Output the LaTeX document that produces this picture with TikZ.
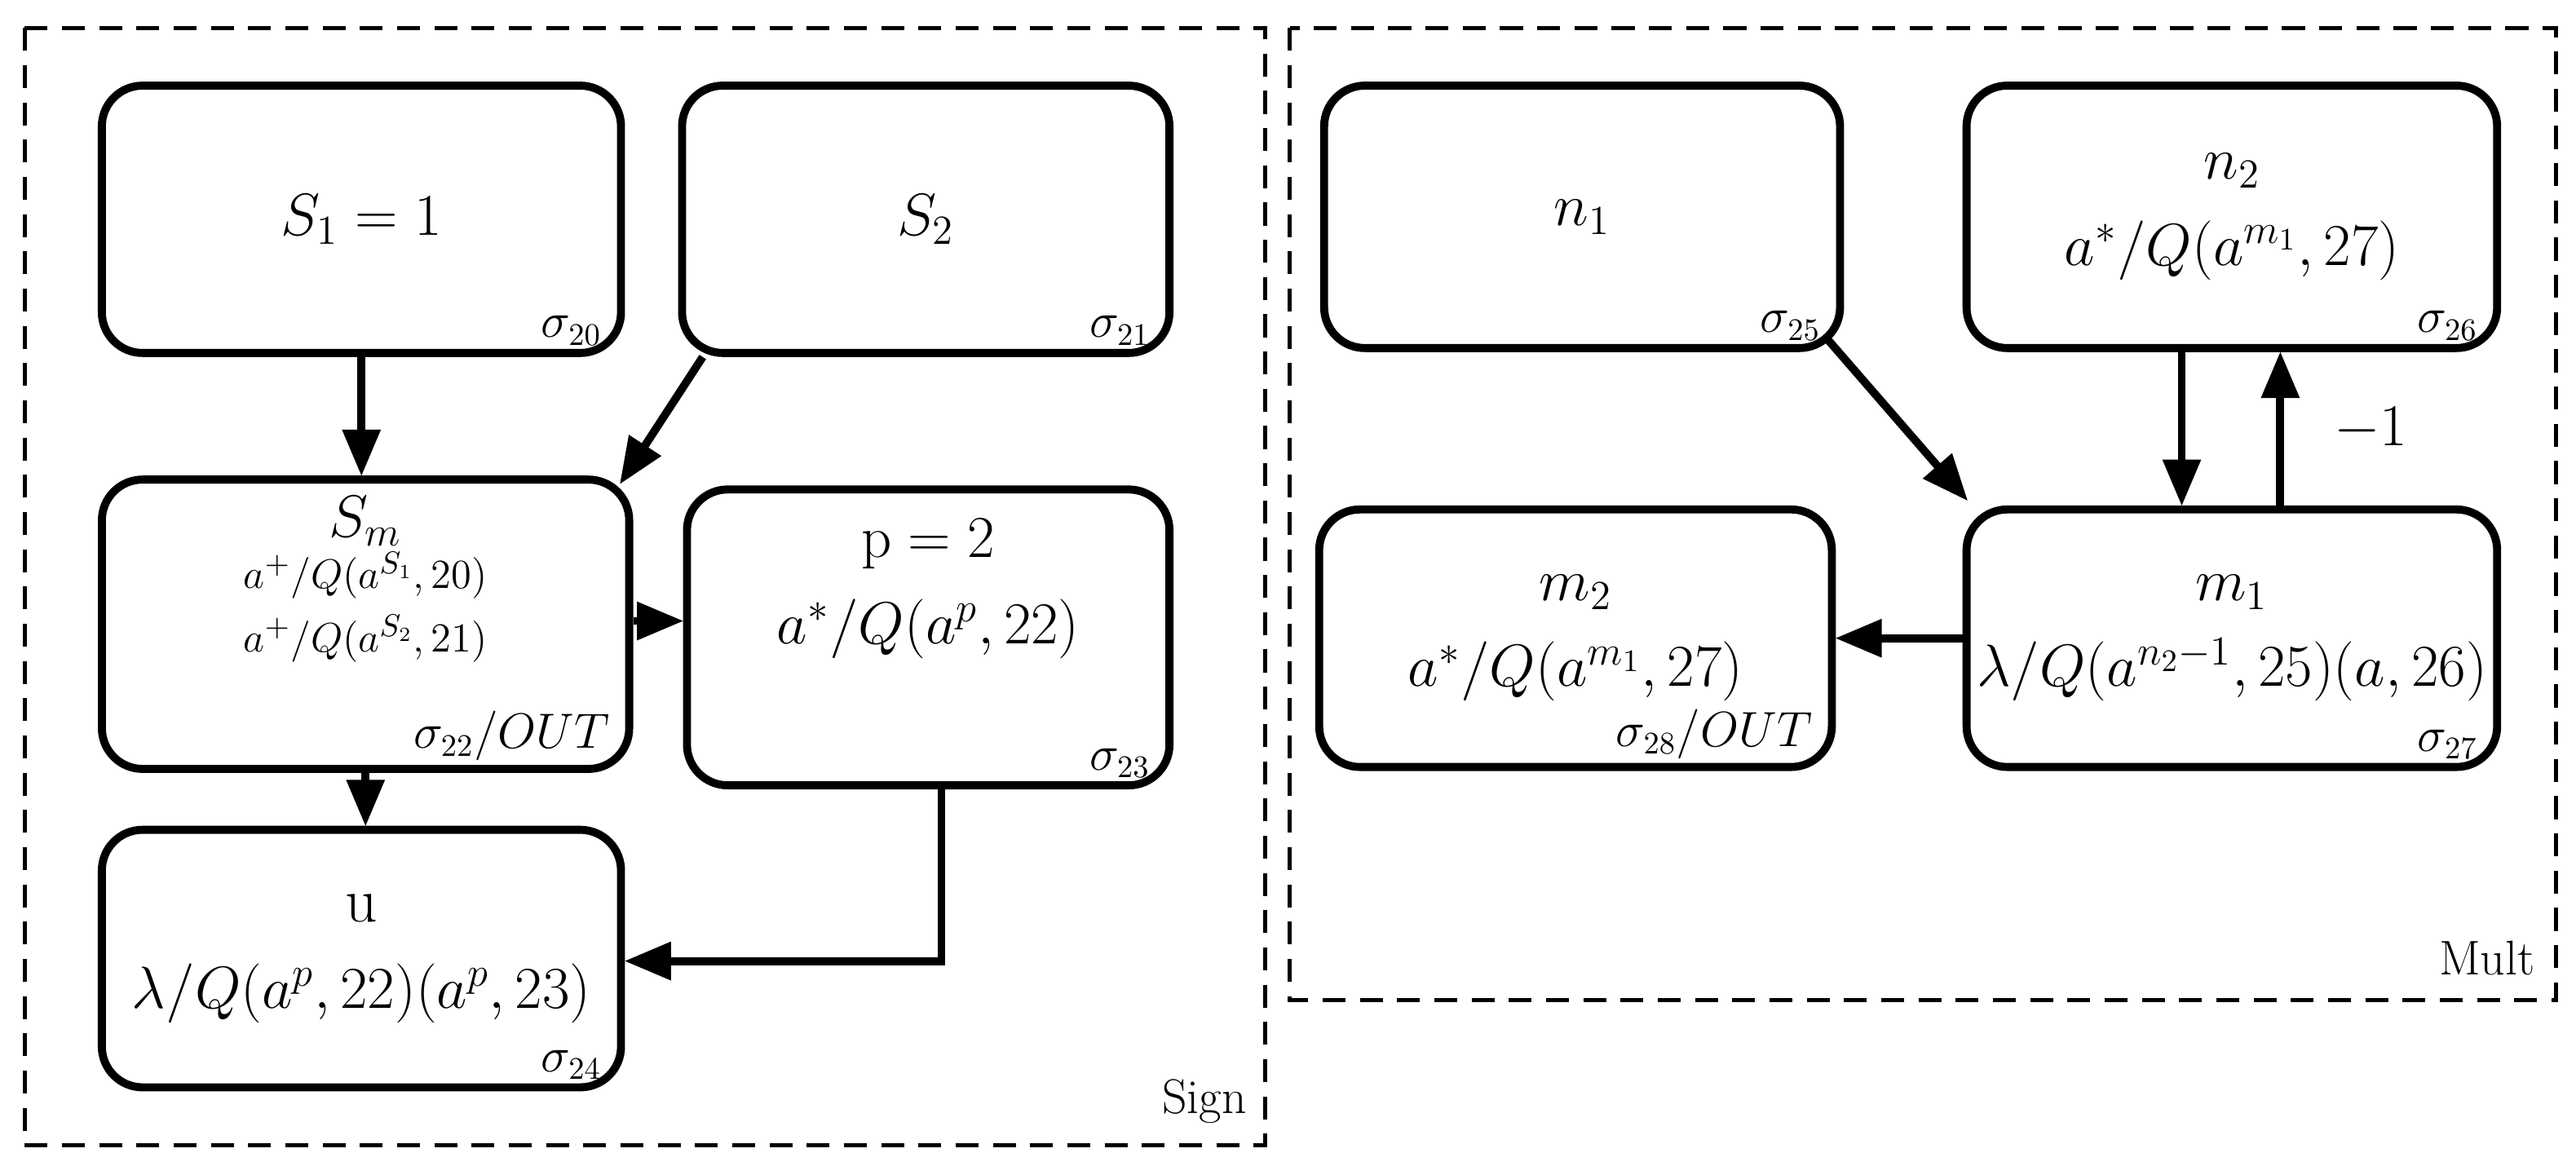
\documentclass[tikz,border=0pt]{standalone}
\usepackage{amsmath}
\usetikzlibrary{positioning,arrows,calc}
\tikzstyle{sbox}=[rectangle, rounded corners=0.5cm, draw=black, line width=2.8pt, inner sep=2pt, align=center, font=\fontsize{22}{30}\selectfont]
\tikzstyle{sig}=[above left, inner xsep=8pt, inner ysep=4pt, font=\fontsize{16}{18}\selectfont]
\tikzstyle{pline}=[-triangle 45, line width=2.8pt]
\tikzstyle{frame}=[draw, dash pattern=on 8pt off 5pt, line width=1.4pt]
\newcommand{\sml}[1]{{\fontsize{15}{19}\selectfont $#1$}}
\begin{document}
\begin{tikzpicture}[x=0.02015cm, y=-0.02015cm]
\useasboundingbox (0,0) rectangle (1568,715);
\draw[frame] (15,17) rectangle (770,697);
\draw[frame] (785,17) rectangle (1556,609);
\node [above left, font=\fontsize{17}{20}\selectfont] at (765,690) {Sign};
\node [above left, font=\fontsize{17}{20}\selectfont] at (1549,600) {Mult};
% Sign
\node (S1) [sbox, minimum width=6.37cm, minimum height=3.28cm] at (220,133.5) {$S_1=1$};
\node [sig] at (S1.south east) {$\sigma_{20}$};
\node (S2) [sbox, minimum width=5.98cm, minimum height=3.28cm] at (563.5,133.5) {$S_2$};
\node [sig] at (S2.south east) {$\sigma_{21}$};
\node (Sm) [sbox, minimum width=6.47cm, minimum height=3.55cm] at (222.5,380) {$S_m$\\[-12pt] \sml{a^+/Q(a^{S_1},20)}\\[-8pt] \sml{a^+/Q(a^{S_2},21)}\\[-4pt] \strut};
\node [sig] at (Sm.south east) {$\sigma_{22}/OUT$};
\node (P) [sbox, minimum width=5.92cm, minimum height=3.63cm] at (565,388) {$\mathrm{p}=2$\\ $a^*/Q(a^p,22)$\\ \strut};
\node [sig] at (P.south east) {$\sigma_{23}$};
\node (U) [sbox, minimum width=6.37cm, minimum height=3.16cm] at (220,583.5) {u\\ $\lambda/Q(a^p,22)(a^p,23)$};
\node [sig] at (U.south east) {$\sigma_{24}$};
% Mult
\node (N1) [sbox, minimum width=6.33cm, minimum height=3.22cm] at (963,132) {$n_1$};
\node [sig] at (N1.south east) {$\sigma_{25}$};
\node (N2) [sbox, minimum width=6.51cm, minimum height=3.22cm] at (1358.5,132) {$n_2$\\ $a^*/Q(a^{m_1},27)$};
\node [sig] at (N2.south east) {$\sigma_{26}$};
\node (M2) [sbox, minimum width=6.29cm, minimum height=3.16cm] at (959,388.5) {$m_2$\\ $a^*/Q(a^{m_1},27)$};
\node [sig] at (M2.south east) {$\sigma_{28}/OUT$};
\node (M1) [sbox, minimum width=6.51cm, minimum height=3.16cm] at (1358.5,388.5) {$m_1$\\ $\lambda/Q(a^{n_2-1},25)(a,26)$};
\node [sig] at (M1.south east) {$\sigma_{27}$};
\coordinate (bend) at (573,585);
% connectors
\draw[pline] (S1.south) -- (S1.south |- Sm.north);
\draw[pline] ($(S2.south west)+(15,0)$) -- ($(Sm.north east)+(-8,5)$);
\draw[pline] (Sm.east |- 0,378) -- (P.west |- 0,378);
\draw[pline] (Sm.south) -- (Sm.south |- U.north);
\draw[pline] (P.south -| bend) -- (bend) -- (U.east |- bend);
\draw[pline] ($(N1.south east)+(-12,-10)$) -- ($(M1.north west)+(3,-3)$);
\draw[pline] (N2.south -| 1328,0) -- (M1.north -| 1328,0);
\draw[pline] (M1.north -| 1388,0) -- (N2.south -| 1388,0) node [midway, right=14pt, font=\fontsize{20}{22}\selectfont] {$-1$};
\draw[pline] (M1.west) -- (M2.east);
\end{tikzpicture}
\end{document}
